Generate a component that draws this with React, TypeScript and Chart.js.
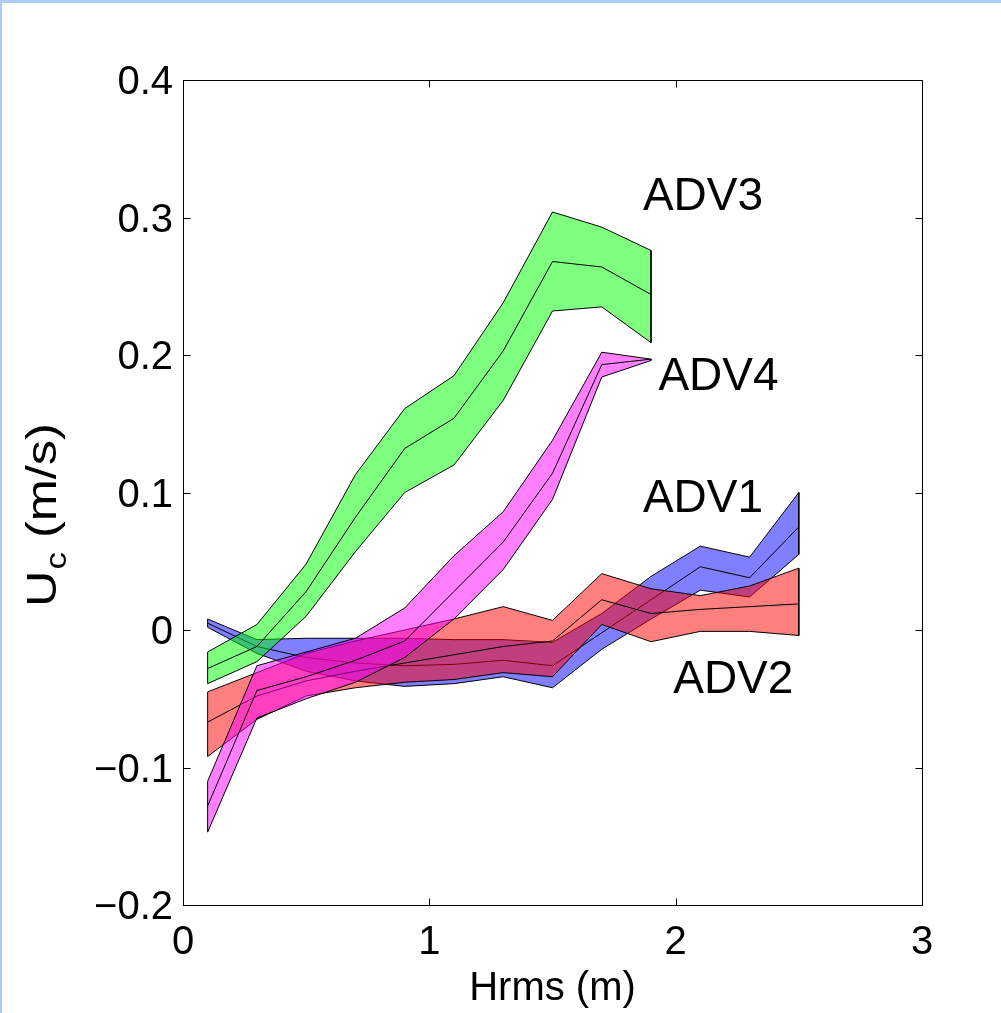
import React, { useEffect, useRef } from "react";
import { Chart, registerables } from "chart.js";

Chart.register(...registerables);

// ---- data ----
const hrmsAdv12 = [0.1, 0.3, 0.5, 0.7, 0.9, 1.1, 1.3, 1.5, 1.7, 1.9, 2.1, 2.3, 2.5];
const hrmsAdv34 = [0.1, 0.3, 0.5, 0.7, 0.9, 1.1, 1.3, 1.5, 1.7, 1.9];

const adv1Upper = [0.008, -0.007, -0.006, -0.006, -0.006, -0.007, -0.007, -0.009, 0.012, 0.039, 0.061, 0.053, 0.1];
const adv1Mid = [0.005, -0.012, -0.02, -0.024, -0.026, -0.025, -0.022, -0.026, -0.002, 0.022, 0.046, 0.038, 0.075];
const adv1Lower = [0.002, -0.017, -0.03, -0.037, -0.041, -0.039, -0.034, -0.042, -0.014, 0.008, 0.029, 0.024, 0.055];

const adv2Upper = [-0.045, -0.031, -0.017, -0.008, 0.0, 0.008, 0.017, 0.007, 0.041, 0.03, 0.025, 0.032, 0.045];
const adv2Mid = [-0.067, -0.048, -0.037, -0.03, -0.024, -0.018, -0.012, -0.008, 0.022, 0.012, 0.015, 0.017, 0.019];
const adv2Lower = [-0.092, -0.065, -0.048, -0.042, -0.038, -0.036, -0.031, -0.034, 0.004, -0.0085, -0.001, -0.001, -0.004];

const adv3Upper = [-0.016, 0.004, 0.048, 0.113, 0.161, 0.185, 0.238, 0.304, 0.293, 0.276];
const adv3Mid = [-0.028, -0.012, 0.028, 0.082, 0.132, 0.154, 0.203, 0.268, 0.264, 0.244];
const adv3Lower = [-0.039, -0.023, 0.01, 0.057, 0.1, 0.12, 0.167, 0.232, 0.235, 0.209];

const adv4Upper = [-0.11, -0.026, -0.016, -0.006, 0.016, 0.054, 0.086, 0.138, 0.202, 0.197];
const adv4Mid = [-0.128, -0.044, -0.034, -0.022, -0.008, 0.028, 0.064, 0.114, 0.193, 0.197];
const adv4Lower = [-0.147, -0.064, -0.05, -0.038, -0.02, 0.008, 0.044, 0.095, 0.184, 0.196];

const xTickValues = [0, 1, 2, 3];
const xTickLabels = ["0", "1", "2", "3"];
const yTickValues = [-0.2, -0.1, 0, 0.1, 0.2, 0.3, 0.4];
const yTickLabels = ["\u22120.2", "\u22120.1", "0", "0.1", "0.2", "0.3", "0.4"];

const seriesNames = ["ADV1", "ADV2", "ADV3", "ADV4"];

// label anchors (data coordinates, left/baseline)
const labelAnchors = [
  { x: 1.867, y: 0.0858 },
  { x: 1.99, y: -0.0458 },
  { x: 1.867, y: 0.3055 },
  { x: 1.93, y: 0.1745 },
];

const FONT = "'Liberation Sans', Arial, Helvetica, sans-serif";

function bandShape(xs: number[], up: number[], lo: number[]) {
  const pts = xs.map((x, i) => ({ x, y: up[i] }));
  for (let i = xs.length - 1; i >= 0; i--) pts.push({ x: xs[i], y: lo[i] });
  pts.push({ x: xs[0], y: up[0] });
  return pts;
}
function linePts(xs: number[], ys: number[]) {
  return xs.map((x, i) => ({ x, y: ys[i] }));
}

const decorPlugin = {
  id: "decor",
  afterDatasetsDraw(chart: any) {
    const { ctx, chartArea, scales } = chart;
    const xs = scales.x;
    const ys = scales.y;
    const l = Math.round(chartArea.left) + 0.5;
    const r = Math.round(chartArea.right) + 0.5;
    const t = Math.round(chartArea.top) + 0.5;
    const b = Math.round(chartArea.bottom) + 0.5;
    ctx.save();
    ctx.strokeStyle = "#000";
    ctx.lineWidth = 1;
    ctx.beginPath();
    ctx.rect(l, t, r - l, b - t);
    ctx.stroke();
    const tl = 7;
    ctx.beginPath();
    for (const v of xTickValues) {
      const px = Math.round(xs.getPixelForValue(v)) + 0.5;
      ctx.moveTo(px, b);
      ctx.lineTo(px, b - tl);
      ctx.moveTo(px, t);
      ctx.lineTo(px, t + tl);
    }
    for (const v of yTickValues) {
      const py = Math.round(ys.getPixelForValue(v)) + 0.5;
      ctx.moveTo(l, py);
      ctx.lineTo(l + tl, py);
      ctx.moveTo(r, py);
      ctx.lineTo(r - tl, py);
    }
    ctx.stroke();

    // series labels
    ctx.fillStyle = "#000";
    ctx.font = `46px ${FONT}`;
    ctx.textAlign = "left";
    ctx.textBaseline = "alphabetic";
    seriesNames.forEach((name, i) => {
      const a = labelAnchors[i];
      ctx.fillText(name, xs.getPixelForValue(a.x), ys.getPixelForValue(a.y));
    });

    // y axis title with subscript
    ctx.translate(56, 607);
    ctx.rotate(-Math.PI / 2);
    ctx.scale(1.2, 1);
    ctx.font = `42px ${FONT}`;
    ctx.fillText("U", 0, 0);
    let w = ctx.measureText("U").width;
    ctx.font = `29px ${FONT}`;
    ctx.fillText("c", w + 1, 10);
    w += ctx.measureText("c").width + 1;
    ctx.font = `42px ${FONT}`;
    ctx.fillText(" (m/s)", w, 0);
    ctx.restore();
  },
};

export default function App() {
  const ref = useRef<HTMLCanvasElement | null>(null);
  useEffect(() => {
    if (!ref.current) return;
    const mk = (data: any[], fillColor: string | null) => ({
      data,
      borderColor: "#000",
      borderWidth: 1,
      backgroundColor: fillColor || "transparent",
      fill: fillColor ? "shape" : false,
      pointRadius: 0,
      pointHoverRadius: 0,
      tension: 0,
    });
    const chart = new Chart(ref.current, {
      type: "line",
      data: {
        datasets: [
          mk(linePts(hrmsAdv34, adv4Mid), null),
          mk(bandShape(hrmsAdv34, adv4Upper, adv4Lower), "rgba(255,0,255,0.5)"),
          mk(linePts(hrmsAdv34, adv3Mid), null),
          mk(bandShape(hrmsAdv34, adv3Upper, adv3Lower), "rgba(0,255,0,0.5)"),
          mk(linePts(hrmsAdv12, adv2Mid), null),
          mk(bandShape(hrmsAdv12, adv2Upper, adv2Lower), "rgba(255,0,0,0.5)"),
          mk(linePts(hrmsAdv12, adv1Mid), null),
          mk(bandShape(hrmsAdv12, adv1Upper, adv1Lower), "rgba(0,0,255,0.5)"),
        ] as any,
      },
      options: {
        animation: false,
        responsive: false,
        devicePixelRatio: 1,
        layout: { padding: { left: 0, top: 80, right: 79, bottom: 0 } },
        plugins: { legend: { display: false }, tooltip: { enabled: false } },
        events: [],
        scales: {
          x: {
            type: "linear",
            min: 0,
            max: 3,
            grid: { display: false, drawTicks: false, tickLength: 0 },
            border: { display: false },
            afterBuildTicks: (s: any) => {
              s.ticks = xTickValues.map((v) => ({ value: v }));
            },
            afterFit: (s: any) => {
              s.height = 108;
            },
            ticks: {
              color: "#000",
              font: { family: FONT, size: 40 },
              padding: 14,
              maxRotation: 0,
              autoSkip: false,
              callback: (v: any) => xTickLabels[xTickValues.indexOf(Number(v))] ?? "",
            },
            title: {
              display: true,
              text: "Hrms (m)",
              color: "#000",
              font: { family: FONT, size: 40 },
              padding: { top: 0, bottom: 0 },
            },
          },
          y: {
            type: "linear",
            min: -0.2,
            max: 0.4,
            grid: { display: false, drawTicks: false, tickLength: 0 },
            border: { display: false },
            afterBuildTicks: (s: any) => {
              s.ticks = yTickValues.map((v) => ({ value: v }));
            },
            afterFit: (s: any) => {
              s.width = 183;
            },
            ticks: {
              color: "#000",
              font: { family: FONT, size: 40 },
              padding: 10,
              labelOffset: 3,
              autoSkip: false,
              callback: (v: any) => {
                const i = yTickValues.findIndex((t) => Math.abs(t - Number(v)) < 1e-9);
                return i >= 0 ? yTickLabels[i] : "";
              },
            },
          },
        },
      },
      plugins: [decorPlugin],
    });
    return () => chart.destroy();
  }, []);

  return (
    <div style={{ position: "fixed", left: 0, top: 0, width: 1001, height: 1013, background: "#fff" }}>
      <canvas ref={ref} width={1001} height={1013} style={{ width: 1001, height: 1013, display: "block" }} />
      <div style={{ position: "absolute", left: 0, top: 0, width: 1001, height: 3, background: "#aaccf8" }} />
      <div style={{ position: "absolute", left: 0, top: 0, width: 2, height: 1013, background: "#aaccf8" }} />
    </div>
  );
}
